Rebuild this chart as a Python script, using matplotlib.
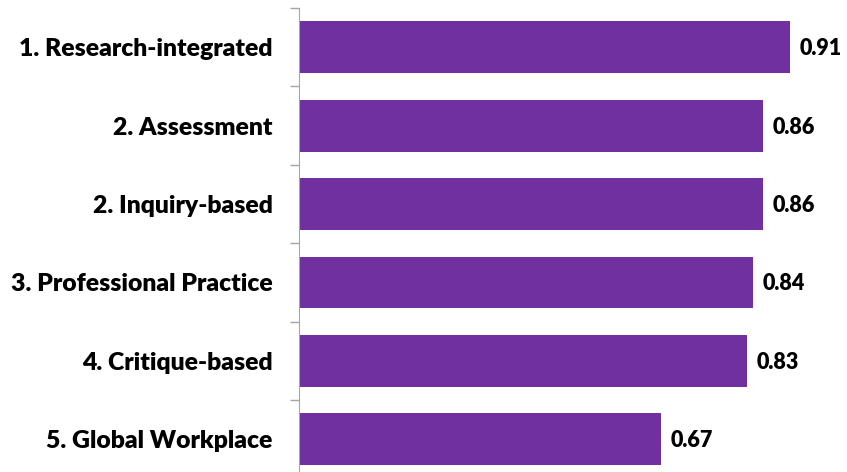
import matplotlib
matplotlib.use("Agg")
import matplotlib.pyplot as plt
import numpy as np

# categories and scores
labels = ["1. Research-integrated", "2. Assessment", "2. Inquiry-based",
          "3. Professional Practice", "4. Critique-based", "5. Global Workplace"]
scores = [0.91, 0.86, 0.86, 0.84, 0.83, 0.67]

plt.rcParams['font.family'] = ['Lato', 'DejaVu Sans']

fig = plt.figure(figsize=(8.47, 4.72), dpi=100)
W, H = 847, 472
ax = fig.add_axes([299 / W, 1 - 478.5 / H, 540 / W, 470.5 / H])

y = np.arange(len(labels))
ax.barh(y, scores, height=0.66, color="#7030A0")

for yi, s in zip(y, scores):
    ax.annotate("{:.2f}".format(s), (s, yi), xytext=(7, -1), textcoords="offset points",
                va="center", ha="left", fontsize=15.5, fontweight="heavy")

ax.set_xlim(0, 1)
ax.set_ylim(len(labels) - 0.5, -0.5)
ax.set_yticks(y)
ax.set_yticklabels(labels, fontsize=17.8, fontweight="heavy")
ax.set_yticks(np.arange(len(labels) + 1) - 0.5, minor=True)
ax.tick_params(axis="y", which="major", length=0, pad=19)
ax.tick_params(axis="y", which="minor", length=6.5, color="#A6A6A6", width=1)
ax.set_xticks([])
for side in ["top", "right", "bottom"]:
    ax.spines[side].set_visible(False)
ax.spines["left"].set_color("#A6A6A6")

fig.savefig("out.png", dpi=100)
